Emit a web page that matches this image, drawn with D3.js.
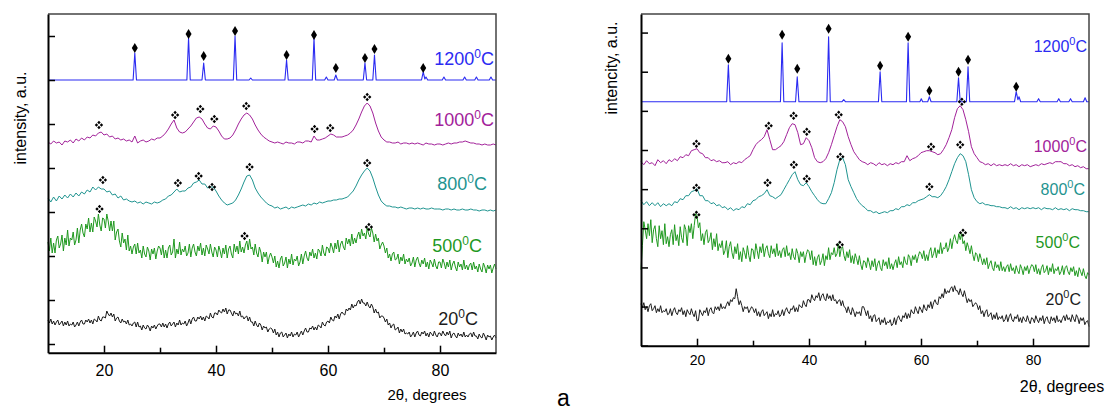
<!DOCTYPE html>
<html>
<head>
<meta charset="utf-8">
<script src="https://d3js.org/d3.v7.min.js"></script>
<style>
  body { margin: 0; background: #fff; }
  svg text { font-family: "Liberation Sans", Arial, sans-serif; }
</style>
</head>
<body>
<div class="container"></div>
<script>
// ---- data -------------------------------------------------------------
// 2theta scan grid of the measured traces: start 10 deg, step 0.5 deg (0.25 deg for the noisy ones)
const SCAN_START = 10;
const STEP = 0.5;
const FINE_STEP = 0.25;

const temperatures = ["1200", "1000", "800", "500", "20"];
const xTicks = [20, 40, 60, 80];
const xMinorTicks = [30, 50, 70];

// panel (left) - intensities in a.u., stacked as in the figure
const leftBlue = [[10,264],[25.2,264],[25.5,291],[25.8,264],[34.8,264],[35.1,306],[35.4,264],[37.5,264],[37.8,281],[38.1,264],
  [43.1,264],[43.4,308],[43.7,264],[45.9,264],[46.2,266],[46.5,264],[52.3,264],[52.6,284],[52.9,264],[57.2,264],[57.5,306],[57.8,264],
  [59.4,264],[59.7,267],[60,264],[61.1,264],[61.4,269],[61.7,264],[66.3,264],[66.6,281],[66.9,264],[68.0,264],[68.3,289],[68.6,264],
  [76.7,264],[77.0,272],[77.3,265],[77.5,267],[77.8,264],[80.4,264],[80.7,267],[81,264],[84.1,264],[84.4,267],[84.7,264],
  [86.2,264],[86.5,267],[86.8,264],[88.8,264],[89.1,267],[89.4,264],[90,264]];
const leftMagenta = [
  202,200,203,201,202,199,203,202,204,201, 205,203,206,204,207,206,209,208,211,212,
  209,210,207,208,205,206,204,205,203,204, 202,208,201,203,204,202,203,205,204,206,
  206,208,211,215,220,224,216,212,211,212, 215,218,222,226,227,225,220,216,215,218,
  217,213,208,205,205,206,209,214,220,225, 229,231,229,225,219,214,210,207,205,203,
  202,201,202,201,200,202,201,201,200,202, 202,201,203,203,202,208,204,204,205,206,
  208,210,209,207,207,207,208,209,211,214, 219,225,232,238,241,238,231,221,213,207,
  204,202,202,201,201,202,200,201,201,200, 201,200,201,200,199,201,200,200,199,200,
  200,199,200,201,200,201,201,202,202,203, 202,201,201,200,200,199,200,199,199,200,
  199];
const leftTeal = [
  146,142,147,143,148,145,149,146,150,147, 151,148,152,150,154,152,157,154,157,155,
  155,152,153,149,150,146,148,144,145,143, 142,143,141,142,140,142,141,140,142,141,
  142,144,145,148,149,152,155,152,153,153, 156,157,161,162,164,160,160,156,157,157,
  153,148,144,141,139,140,141,144,149,155, 162,168,169,164,156,151,147,144,141,139,
  138,136,137,135,136,137,135,137,136,137, 138,139,138,140,139,141,140,142,141,142,
  143,143,144,144,145,145,146,147,150,153, 158,164,169,173,176,173,166,157,149,143,
  140,138,138,137,137,136,137,136,135,136, 136,135,136,135,136,135,135,136,135,135,
  135,134,135,135,134,135,134,134,135,134, 134,135,134,134,133,134,134,133,134,133,
  134];
const leftGreen = [
  102,93,106,91,101,91,104,108,96,100,109,93,106,99,114,98,106,104,112,99,
  104,116,101,114,120,111,107,120,115,126,112,121,112,127,123,117,130,119,113,126,
  125,116,130,123,113,123,113,123,104,112,115,103,97,111,101,105,94,109,93,98,
  90,97,100,90,101,91,94,86,98,90,87,97,93,84,95,90,96,85,93,98,
  96,89,99,86,94,86,96,99,89,92,105,86,95,90,102,89,95,92,98,88,
  91,100,87,96,100,92,88,98,93,101,89,96,88,99,95,90,100,92,87,97,
  94,87,98,93,86,96,90,99,86,95,98,90,86,100,92,98,90,103,92,97,
  91,99,103,94,105,95,97,89,100,91,87,97,92,82,92,87,92,80,87,91,
  87,81,88,77,83,76,85,88,78,81,87,76,85,80,90,79,85,83,88,78,
  82,90,80,88,93,86,83,92,88,95,86,91,85,95,93,88,99,91,88,97,
  96,91,101,97,91,101,95,104,92,100,103,97,94,106,100,105,98,110,100,106,
  101,108,112,105,115,108,111,105,116,110,107,116,111,102,110,103,106,95,99,102,
  98,91,96,86,90,83,90,92,84,85,90,80,87,83,90,80,85,82,86,78,
  81,87,77,84,87,81,77,84,80,86,77,82,75,84,81,77,85,78,75,82,
  82,76,85,81,75,82,77,84,74,80,83,77,73,82,77,80,74,84,75,79,
  74,79,81,74,82,75,78,72,80,75,72,81,77,71,79,75,79,71,76,80,
  75];
const leftBlack = [
  24,21,25,20,23,19,22,24,19,21,23,18,22,19,23,18,20,19,22,17,
  19,22,18,22,24,20,20,24,22,25,21,24,20,25,24,22,28,24,23,27,
  27,26,33,30,28,31,27,30,23,26,27,23,21,25,22,23,20,24,19,20,
  18,21,22,17,22,17,18,14,19,16,15,19,17,13,18,16,19,15,18,20,
  20,17,21,17,20,16,20,22,18,20,22,17,21,19,24,19,21,20,23,18,
  21,25,20,25,27,23,23,27,25,28,24,27,23,28,27,25,31,27,26,31,
  31,29,34,32,31,35,32,36,30,34,34,31,28,33,30,31,28,33,27,28,
  25,27,28,23,27,22,22,18,23,19,17,21,19,14,18,16,17,12,15,16,
  15,11,15,9,12,7,11,12,7,9,11,6,10,8,12,7,10,9,12,7,
  10,13,9,13,16,12,12,16,15,18,14,17,14,19,18,16,22,19,18,22,
  23,21,27,24,23,28,26,30,25,30,32,30,29,35,33,36,34,40,36,39,
  38,42,44,40,45,41,41,38,42,38,36,40,37,31,35,31,32,26,28,28,
  26,22,25,19,21,16,19,20,14,15,17,11,15,12,15,10,11,10,12,7,
  9,12,7,11,13,9,8,12,10,13,8,11,7,12,10,8,13,9,7,11,
  11,8,13,10,8,12,9,13,6,10,11,8,6,11,8,10,7,12,7,9,
  7,10,11,7,12,8,8,5,10,7,6,11,8,4,9,7,8,4,7,9,
  6];
const leftDiamonds = [[25.5,296],[35.1,310],[37.8,288],[43.4,313],[52.6,289],[57.5,309],[61.4,276],[66.6,286],[68.3,295],[77.0,276]];
const leftMagentaMarks = [[19.1,219],[32.7,229],[37.2,235],[39.7,225],[45.4,238],[57.6,215],[60.4,216],[67.0,247]];
const leftTealMarks = [[19.8,164],[33.2,161],[36.9,168],[39.3,157],[46.0,177],[67.0,181]];
const leftGreenMarks = [[19.2,135],[45.1,108],[67.3,117]];

// panel (right)
const rightBlue = [[10,244],[25.3,244],[25.6,281],[25.9,244],[34.9,244],[35.2,303],[35.5,244],[37.6,244],[37.9,269],[38.2,244],
  [43.2,244],[43.5,309],[43.8,244],[45.9,244],[46.2,246],[46.5,244],[52.4,244],[52.7,274],[53.0,244],[57.4,244],[57.7,303],[58.0,244],
  [59.8,244],[60.05,247],[60.3,244],[61.2,244],[61.5,249],[61.8,244],[66.4,244],[66.7,268],[67.0,244],[68.1,244],[68.4,279],[68.7,244],
  [76.7,244],[77.0,254],[77.3,246],[77.5,249],[77.8,244],[80.7,244],[81.0,247],[81.3,244],[84.3,244],[84.6,247],[84.9,244],
  [86.4,244],[86.7,247],[87.0,244],[89.0,244],[89.3,248],[89.6,244],[90,244]];
const rightMagenta = [
  184,181,185,182,183,180,186,183,185,182, 186,184,187,185,189,188,191,190,195,196,
  197,193,192,188,188,185,186,184,185,183, 183,184,181,183,182,184,183,186,188,190,
  196,201,204,206,209,216,206,196,196,198, 200,204,211,218,222,221,213,201,202,208,
  205,198,188,184,183,184,187,193,201,210, 219,226,224,219,209,201,194,190,186,184,
  183,181,183,182,180,183,181,182,180,182, 181,183,182,184,184,190,185,187,188,190,
  193,194,195,195,194,193,191,192,196,201, 208,216,228,237,240,236,226,214,199,192,
  188,184,183,181,182,180,182,180,181,180, 181,180,182,180,181,179,181,180,181,179,
  180,181,180,182,181,182,183,182,184,184, 184,182,182,180,181,179,180,178,179,177,
  177];
const rightTeal = [
  145,141,144,140,143,140,143,139,142,140, 142,140,144,143,147,146,150,150,154,155,
  157,150,150,145,145,142,143,140,141,138, 139,136,138,135,137,136,139,138,142,141,
  145,146,149,150,152,156,150,149,147,149, 151,156,161,166,171,174,166,161,160,163,
  159,154,150,146,143,142,142,147,153,163, 176,186,188,181,166,159,153,147,143,140,
  138,135,135,133,134,132,133,134,133,135, 135,137,136,139,139,141,140,143,143,145,
  146,147,149,151,149,149,148,150,154,159, 166,174,182,188,192,190,184,171,156,148,
  144,142,143,141,141,140,140,139,139,138, 138,137,139,137,138,136,138,137,138,137,
  138,137,138,136,138,137,137,136,138,136, 137,136,137,135,137,136,136,135,135,134,
  134];
const rightGreen = [
  76,100,124,116,107,122,110,126,103,116,120,107,99,120,107,115,101,122,102,109,
  99,111,116,101,121,105,111,100,119,108,103,121,116,100,120,113,122,107,120,132,
  130,118,123,105,112,101,113,116,103,106,113,96,107,99,112,95,102,98,105,91,
  95,105,88,99,104,93,87,99,92,102,86,94,84,98,93,87,100,90,84,97,
  96,87,102,95,87,99,93,102,89,97,100,92,88,100,92,97,89,102,90,95,
  88,96,98,89,100,90,93,86,97,89,86,97,92,83,94,89,94,83,91,96,
  94,86,95,81,89,80,88,91,81,85,92,80,90,86,98,86,93,91,98,89,
  92,102,89,97,99,90,85,94,88,96,83,90,82,92,87,81,90,81,76,85,
  84,78,88,83,76,85,79,87,75,82,85,78,75,86,80,84,77,88,77,82,
  76,82,86,78,89,81,84,78,89,83,81,91,88,80,90,86,91,83,89,94,
  92,87,95,85,91,85,94,98,88,92,98,88,96,92,103,92,98,97,103,94,
  98,107,97,106,111,105,102,112,106,112,102,105,95,103,98,92,100,91,85,93,
  91,84,92,87,81,87,81,88,77,82,85,78,75,84,78,81,75,84,75,79,
  74,79,81,74,82,75,78,72,80,75,72,81,77,71,79,75,80,72,77,81,
  80,74,81,72,77,71,78,81,73,75,80,71,78,74,82,72,77,75,79,71,
  74,80,71,78,80,74,71,78,74,79,70,75,69,78,74,70,77,70,67,73,
  71];
const rightBlack = [
  42,38,43,36,39,34,40,42,35,37,40,33,37,34,40,33,35,34,37,31,
  32,37,30,35,38,33,31,36,34,38,31,35,29,36,33,31,37,32,29,35,
  25,25,36,33,30,35,33,38,30,36,38,33,32,39,36,39,35,42,37,39,
  37,41,44,40,46,44,48,47,57,49,41,45,40,34,39,37,39,33,36,39,
  37,33,37,30,34,29,34,36,30,32,34,27,32,29,36,29,32,31,35,29,
  31,36,30,35,38,34,32,37,36,40,34,38,34,41,39,38,45,41,39,46,
  46,43,51,47,45,50,48,53,45,50,52,47,45,52,47,50,45,51,45,46,
  42,45,46,40,45,39,38,33,39,34,31,38,34,29,34,32,34,30,39,39,
  35,30,35,27,30,24,30,31,24,26,28,21,26,23,28,21,24,23,26,20,
  22,28,21,27,30,26,24,30,28,33,27,32,28,36,33,32,39,35,32,39,
  36,33,41,37,35,41,38,44,37,43,46,42,41,49,47,52,48,57,52,55,
  53,57,59,54,60,55,55,51,57,52,49,55,49,43,47,44,46,39,41,43,
  41,36,40,32,35,29,34,36,29,31,33,26,31,27,33,26,29,27,30,24,
  26,31,24,29,32,26,24,29,27,31,24,28,23,29,26,24,30,25,22,28,
  27,23,30,26,23,28,25,30,22,27,29,24,22,29,25,28,23,30,24,26,
  23,27,30,25,31,26,28,24,31,27,24,31,28,22,28,25,28,21,24,25,
  19];
const rightDiamonds = [[25.6,287],[35.2,311],[37.9,277],[43.5,317],[52.7,280],[57.7,309],[61.5,255],[66.7,274],[68.4,286],[77.0,259]];
const rightMagentaMarks = [[19.9,202],[32.8,220],[37.25,230],[39.6,214],[45.3,231],[61.8,199],[67.3,244]];
const rightTealMarks = [[19.9,158],[32.6,163],[37.3,181],[39.6,167],[45.6,189],[61.5,159],[67.0,201]];
const rightGreenMarks = [[19.9,131],[45.5,101],[67.5,113]];

// ---- layout -----------------------------------------------------------
const WIDTH = 1106;
const HEIGHT = 412;
const COLORS = ["#2b2bf2", "#a2229a", "#1f9490", "#1f991f", "#1c1c1c"];

var toScan = function(values, step){
  return values.map(function(v, i){ return [SCAN_START + i * step, v]; });
};

var panels = [
  {
    x0: 48, x1: 496, top: 14, bottom: 352.7, yDomain: [-8.7, 330], yTickStep: 44, yTickCount: 8,
    tickFont: 16, tickPad: 12, yLabel: "intensity, a.u.", yLabelPos: [26, 118],
    xLabelPos: [427, 400], xLabelFont: 15, labelFont: 18, supFont: 12,
    series: [leftBlue, toScan(leftMagenta, STEP), toScan(leftTeal, STEP), toScan(leftGreen, FINE_STEP), toScan(leftBlack, FINE_STEP)],
    diamonds: leftDiamonds,
    marks: [leftMagentaMarks, leftTealMarks, leftGreenMarks],
    labelPos: [[494,65],[494,126],[487,190],[482,252],[478,325]]
  },
  {
    x0: 641, x1: 1089, top: 14, bottom: 345.7, yDomain: [0, 331.7], yTickStep: 39.14, yTickCount: 9,
    tickFont: 14, tickPad: 9.5, yLabel: "intencity, a.u.", yLabelPos: [617, 68],
    xLabelPos: [1062, 392], xLabelFont: 16, labelFont: 16, supFont: 11,
    series: [rightBlue, toScan(rightMagenta, STEP), toScan(rightTeal, STEP), toScan(rightGreen, FINE_STEP), toScan(rightBlack, FINE_STEP)],
    diamonds: rightDiamonds,
    marks: [rightMagentaMarks, rightTealMarks, rightGreenMarks],
    labelPos: [[1087,52],[1087,152],[1085,195],[1080,248],[1081,305]]
  }
];

var translate = function(x, y){
  return "translate(" + x + "," + y + ")";
};

// four small diamonds, like the "❖" phase marker
var quadDiamond = (function(){
  var r = 1.7, o = 2.5, d = "";
  [[0,-o],[o,0],[0,o],[-o,0]].forEach(function(c){
    d += "M" + c[0] + "," + (c[1]-r) + "L" + (c[0]+r) + "," + c[1] + "L" + c[0] + "," + (c[1]+r) + "L" + (c[0]-r) + "," + c[1] + "Z";
  });
  return d;
})();
var diamond = "M0,-5L3,0L0,5L-3,0Z";

var drawPanel = function(svg, p){
  var x = d3.scaleLinear().domain([10, 90]).range([p.x0, p.x1]);
  var y = d3.scaleLinear().domain(p.yDomain).range([p.bottom, p.top]);
  var line = d3.line()
    .x(function(d){ return x(d[0]); })
    .y(function(d){ return y(d[1]); });

  var g = svg.append('g');

  // traces
  g.selectAll('path.trace').data(p.series)
    .enter().append('path')
    .attr('class', 'trace')
    .attr('d', line)
    .attr('fill', 'none')
    .attr('stroke', function(d, i){ return COLORS[i]; })
    .attr('stroke-width', function(d, i){ return i === 0 ? 1.1 : 1; })
    .attr('stroke-linejoin', 'round');

  // phase markers
  g.selectAll('path.dia').data(p.diamonds)
    .enter().append('path')
    .attr('class', 'dia')
    .attr('d', diamond)
    .attr('transform', function(d){ return translate(x(d[0]), y(d[1])); })
    .attr('fill', '#000');

  p.marks.forEach(function(set){
    g.selectAll(null).data(set)
      .enter().append('path')
      .attr('d', quadDiamond)
      .attr('transform', function(d){ return translate(x(d[0]), y(d[1])); })
      .attr('fill', '#000');
  });

  // temperature labels
  temperatures.forEach(function(t, i){
    var txt = g.append('text')
      .attr('x', p.labelPos[i][0])
      .attr('y', p.labelPos[i][1])
      .attr('text-anchor', 'end')
      .attr('fill', COLORS[i])
      .attr('font-size', p.labelFont);
    txt.append('tspan').text(t);
    txt.append('tspan').attr('font-size', p.supFont).attr('dy', -7).text("0");
    txt.append('tspan').attr('dy', 7).text("C");
  });

  // frame (top and right)
  g.append('path')
    .attr('d', "M" + p.x0 + "," + p.top + "H" + p.x1 + "V" + p.bottom)
    .attr('fill', 'none')
    .attr('stroke', '#444')
    .attr('stroke-width', 1.5);

  // axes
  var xAxis = g.append('g')
    .attr('transform', translate(0, p.bottom))
    .call(d3.axisBottom(x).tickValues(xTicks).tickSizeInner(-7).tickSizeOuter(0).tickPadding(p.tickPad));
  xAxis.selectAll('text').attr('font-size', p.tickFont).attr('fill', '#000');
  var xMinor = g.append('g')
    .attr('transform', translate(0, p.bottom))
    .call(d3.axisBottom(x).tickValues(xMinorTicks).tickSizeInner(-5).tickSizeOuter(0).tickFormat(""));
  xMinor.select('.domain').remove();

  var yTicks = d3.range(p.yTickCount).map(function(k){ return k * p.yTickStep; })
    .filter(function(v){ return v >= p.yDomain[0] && v <= p.yDomain[1]; });
  var yAxis = g.append('g')
    .attr('transform', translate(p.x0, 0))
    .call(d3.axisLeft(y).tickValues(yTicks).tickSizeInner(-7).tickSizeOuter(0).tickFormat(""));

  [xAxis, xMinor, yAxis].forEach(function(a){
    a.selectAll('.tick line').attr('stroke', '#000').attr('stroke-width', 1.5);
  });
  [xAxis, yAxis].forEach(function(a){
    a.select('.domain').attr('stroke', '#000').attr('stroke-width', 2);
  });

  // axis titles
  g.append('text')
    .attr('transform', translate(p.yLabelPos[0], p.yLabelPos[1]) + " rotate(-90)")
    .attr('text-anchor', 'middle')
    .attr('font-size', 16)
    .text(p.yLabel);

  g.append('text')
    .attr('x', p.xLabelPos[0])
    .attr('y', p.xLabelPos[1])
    .attr('text-anchor', 'middle')
    .attr('font-size', p.xLabelFont)
    .text("2\u03B8, degrees");
};

var generateChart = function(){
  var svg = d3.select('.container').append('svg')
    .attr('width', WIDTH)
    .attr('height', HEIGHT)
    .style('display', 'block');

  panels.forEach(function(p){ drawPanel(svg, p); });

  svg.append('text')
    .attr('x', 563.5)
    .attr('y', 406)
    .attr('text-anchor', 'middle')
    .attr('font-size', 23)
    .text("a");
};

window.onload = generateChart;
</script>
</body>
</html>
